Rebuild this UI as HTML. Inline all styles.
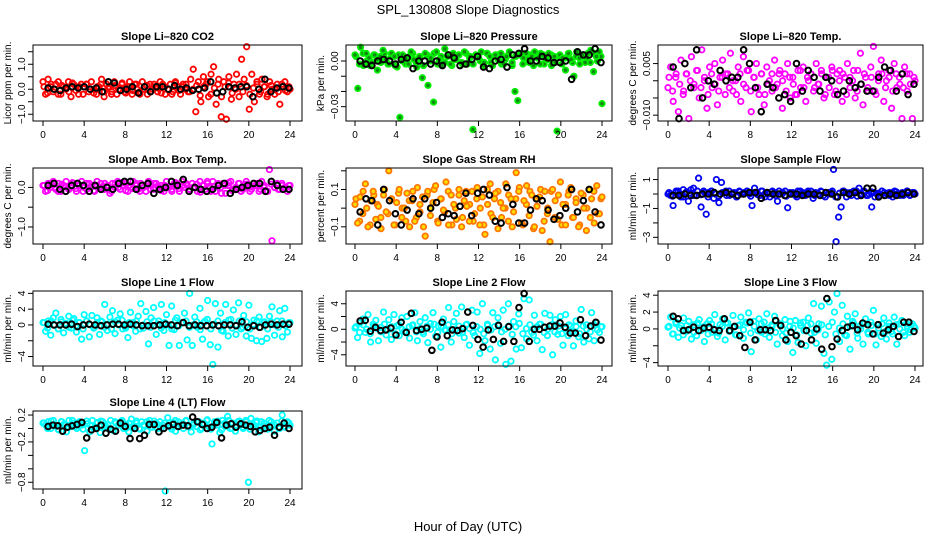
<!DOCTYPE html>
<html><head><meta charset="utf-8"><style>
html,body{margin:0;padding:0;background:#fff;}
svg{display:block;font-family:"Liberation Sans",sans-serif;}
</style></head><body>
<svg id="chart" width="936" height="540" viewBox="0 0 936 540">
<rect x="0" y="0" width="936" height="540" fill="#fff"/>
<text x="468" y="14" text-anchor="middle" font-size="13">SPL_130808  Slope Diagnostics</text>
<text x="468" y="531" text-anchor="middle" font-size="13">Hour of Day (UTC)</text>
</svg>
<script>
const xTicks=[0,4,8,12,16,20,24];
const co2Vals=[0.3,-0.2,0.4,0.1,-0.1,0.2,0.3,-0.2,0.1,0.0,0.3,-0.3,0.2,0.1,-0.2,0.2,0.1,0.2,-0.1,0.3,0.0,-0.2,0.1,0.4,-0.3,0.2,0.1,-0.1,0.3,-0.2,0.0,0.2,-0.1,0.1,0.3,-0.2,0.2,0.0,-0.1,0.3,0.1,-0.2,0.2,0.0,0.1,-0.1,0.3,0.2,-0.2,0.0,0.2,-0.1,0.3,0.1,-0.2,0.2,0.0,-0.1,0.4,0.8,-0.9,0.3,-0.5,0.5,0.2,-0.3,0.6,0.9,-0.6,0.4,-1.1,0.3,-1.2,0.5,-0.4,0.2,0.6,-0.3,1.2,0.4,1.7,-0.8,0.6,-0.5,0.3,-0.2,0.4,0.1,-0.3,0.3,0.0,-0.2,0.2,-0.6,0.1,0.3,-0.1,0.0];
const co2Core=[0.1,-0.15,0.2,0.0,-0.2,0.15,0.05,-0.1,0.25,-0.05,0.1,-0.2,0.2,0.0,-0.15,0.1,0.2,-0.1,0.05,-0.2,0.15,0.0,0.25,-0.15,0.1,-0.05,0.2,-0.2,0.0,0.15,-0.1,0.2,0.05,-0.15,0.1,0.0,-0.2,0.25,-0.05,0.1,0.2,-0.1,0.0,0.15,-0.25,0.1,0.3,-0.2,0.05,0.2,-0.3,0.1,0.25,-0.15,0.0,0.2,-0.1,0.15,-0.2,0.05,0.2,-0.1,0.1,-0.2,0.15,0.0,-0.1,0.2,-0.05,0.1];
const co2Black=[0.05,0.0,-0.05,0.05,0.1,0.05,0.1,0.0,0.05,-0.1,0.3,0.25,-0.05,0.0,0.1,-0.15,0.1,-0.1,0.1,0.1,0.0,0.15,0.0,0.05,-0.05,0.0,0.05,0.3,-0.15,-0.1,0.1,0.05,0.1,0.1,-0.3,0.0,0.4,-0.1,0.05,0.1,0.05];
const presVals=[0.004,-0.018,0.009,-0.003,0.005,0.002,-0.001,0.004,-0.006,0.003,0.007,0.001,-0.002,0.005,0.003,-0.004,-0.037,0.004,0.002,-0.002,0.006,0.001,-0.004,0.003,-0.011,0.005,-0.016,0.002,-0.027,0.006,0.001,-0.003,0.008,0.003,-0.002,0.005,0.001,0.004,-0.001,0.006,-0.002,0.003,-0.045,0.004,0.002,0.006,-0.001,0.005,0.003,-0.003,0.004,0.001,0.005,-0.002,0.003,0.006,-0.001,-0.020,-0.026,0.004,0.002,0.005,-0.001,0.003,0.006,0.002,-0.002,0.004,0.001,0.005,-0.003,0.003,-0.046,0.004,0.002,-0.006,0.005,0.001,-0.010,0.006,0.002,0.004,-0.001,0.005,0.007,-0.007,0.003,0.006,-0.028];
const presCore=[0.003,-0.002,0.005,0.000,-0.003,0.004,0.001,-0.001,0.005,-0.002,0.003,-0.003,0.004,0.000,-0.002,0.003,0.005,-0.001,0.002,-0.003,0.004,0.000,0.005,-0.002,0.003,-0.001,0.004,-0.003,0.001,0.004,-0.002,0.005,0.002,-0.002,0.003,0.000,-0.003,0.005,-0.001,0.003,0.004,-0.002,0.001,0.004,-0.003,0.003,0.005,-0.002,0.002,0.004,-0.003,0.003,0.005,-0.002,0.001,0.004,-0.001,0.003,-0.002,0.002,0.005,-0.001,0.003,-0.002,0.004,0.001,-0.001,0.005,0.000,0.003];
const presBlack=[0.000,-0.002,-0.003,0.000,0.001,0.000,-0.002,0.001,0.002,-0.005,0.000,0.000,-0.002,0.000,-0.003,0.004,0.002,-0.003,-0.002,0.001,0.003,-0.004,-0.005,0.000,0.001,-0.004,0.004,0.005,0.008,0.000,0.000,0.003,0.002,-0.001,-0.001,0.000,-0.012,0.006,0.004,0.004,0.008,-0.001];
const tempVals=[-0.002,0.004,-0.006,0.001,-0.009,0.006,-0.003,0.002,-0.011,0.007,-0.001,0.003,-0.005,0.009,0.000,-0.008,0.004,-0.002,0.005,-0.007,0.001,0.006,-0.004,0.002,0.008,-0.003,0.000,0.004,-0.006,0.007,-0.002,0.003,-0.009,0.001,0.005,-0.004,0.002,-0.007,0.004,0.000,-0.003,0.006,-0.001,0.003,-0.008,0.002,0.005,-0.005,0.001,-0.004,0.003,-0.002,0.004,-0.006,0.000,0.002,-0.003,0.005,-0.001,0.003,-0.005,0.001,-0.002,0.004,-0.004,0.002,0.003,-0.006,0.001,0.005,-0.002,0.000,-0.005,0.003,0.008,-0.007,0.001,-0.003,0.004,0.010,-0.004,0.002,0.006,-0.006,0.000,0.003,-0.008,0.005,-0.002,0.001,-0.011,0.004,-0.003,0.002,-0.011,0.000];
const tempCore=[0.001,-0.003,0.002,-0.001,-0.004,0.002,0.000,-0.002,0.003,-0.002,0.001,-0.004,0.002,-0.001,-0.003,0.001,0.002,-0.002,0.000,-0.004,0.002,-0.001,0.003,-0.003,0.001,-0.002,0.002,-0.004,-0.001,0.002,-0.002,0.002,0.000,-0.003,0.001,-0.001,-0.004,0.003,-0.002,0.001,0.002,-0.002,-0.001,0.002,-0.004,0.001,0.003,-0.003,0.000,0.002,-0.004,0.001,0.003,-0.003,-0.001,0.002,-0.002,0.001,-0.003,0.000,0.002,-0.002,0.001,-0.003,0.002,-0.001,-0.002,0.002,-0.001,0.001];
const tempBlack=[0.004,-0.011,0.005,-0.002,0.009,-0.005,0.000,-0.001,0.003,0.000,0.001,0.001,0.009,0.005,-0.002,-0.009,-0.001,-0.002,-0.005,-0.004,-0.006,0.005,-0.003,0.003,0.001,-0.003,0.001,0.000,-0.004,-0.003,0.000,-0.002,-0.001,-0.003,-0.003,0.001,0.004,0.003,-0.003,0.002,-0.004,-0.001];
const boxVals=[0.05,-0.1,0.1,0.0,0.15,-0.05,0.1,-0.1,0.05,0.15,-0.05,0.0,0.1,-0.1,0.05,0.15,0.0,-0.05,0.1,0.05,-0.1,0.15,0.0,-0.05,0.1,0.05,-0.15,0.1,0.0,0.15,-0.05,0.05,0.1,-0.1,0.0,0.15,0.05,-0.05,0.1,0.0,-0.1,0.15,0.05,-0.05,0.1,0.0,0.05,-0.1,0.15,0.0,-0.05,0.1,0.05,-0.1,0.15,0.0,0.05,-0.05,0.1,0.0,-0.1,0.15,0.05,-0.05,0.1,0.0,0.15,-0.1,0.05,0.0,0.1,-0.15,0.05,0.15,-0.05,0.0,0.1,-0.1,0.05,0.15,0.0,-0.05,0.1,0.05,-0.1,0.15,0.0,-0.1,0.45,-1.35,0.0,0.1,-0.05,0.05,0.0,-0.1,0.05];
const boxCore=[0.05,-0.08,0.1,0.0,-0.1,0.08,0.03,-0.05,0.12,-0.03,0.05,-0.1,0.1,0.0,-0.08,0.05,0.1,-0.05,0.03,-0.1,0.08,0.0,0.12,-0.08,0.05,-0.03,0.1,-0.1,0.0,0.08,-0.05,0.1,0.03,-0.08,0.05,0.0,-0.1,0.12,-0.03,0.05,0.1,-0.05,0.0,0.08,-0.12,0.05,0.15,-0.1,0.03,0.1,-0.15,0.05,0.12,-0.08,0.0,0.1,-0.05,0.08,-0.1,0.03,0.1,-0.05,0.05,-0.1,0.08,0.0,-0.05,0.1,-0.03,0.05];
const boxBlack=[0.05,0.1,-0.05,-0.1,0.05,0.1,0.05,-0.1,0.05,-0.05,0.0,-0.05,0.1,0.15,0.15,-0.05,0.05,0.1,-0.15,-0.05,0.0,0.15,0.05,0.2,-0.1,0.0,-0.05,-0.1,-0.05,0.05,0.1,-0.15,-0.05,0.0,0.05,0.1,0.1,-0.1,0.15,0.05,-0.05,-0.05];
const rhVals=[0.02,-0.08,0.06,-0.03,0.13,-0.1,0.04,0.09,-0.06,0.01,-0.11,0.07,-0.02,0.2,0.05,-0.09,0.03,0.1,-0.05,0.0,0.08,-0.1,0.04,-0.07,0.11,-0.02,0.06,-0.15,0.09,-0.04,0.03,0.12,-0.08,0.05,-0.01,0.14,-0.09,0.07,0.02,-0.06,0.1,-0.1,0.04,0.01,-0.07,0.09,-0.03,0.11,-0.09,0.06,-0.14,0.02,0.13,-0.05,0.08,-0.11,0.03,0.0,0.13,-0.07,0.05,-0.02,0.19,0.09,-0.08,0.04,0.12,-0.04,0.07,-0.1,0.01,0.06,-0.12,0.09,-0.03,-0.18,0.1,0.04,-0.06,0.14,0.02,-0.09,0.07,0.11,-0.05,0.03,-0.1,0.08,0.0,-0.12,0.1,0.05,-0.08,0.12,-0.03,0.06];
const rhCore=[0.05,-0.07,0.09,0.0,-0.09,0.07,0.02,-0.05,0.1,-0.03,0.05,-0.09,0.08,0.0,-0.07,0.04,0.09,-0.05,0.02,-0.1,0.07,0.0,0.1,-0.07,0.05,-0.02,0.09,-0.09,0.0,0.07,-0.05,0.09,0.02,-0.07,0.05,0.0,-0.09,0.1,-0.03,0.05,0.09,-0.05,0.0,0.07,-0.1,0.05,0.11,-0.09,0.02,0.09,-0.11,0.05,0.1,-0.07,0.0,0.09,-0.05,0.07,-0.09,0.02,0.09,-0.05,0.05,-0.09,0.07,0.0,-0.05,0.09,-0.03,0.05];
const rhBlack=[-0.02,0.05,0.04,-0.09,0.1,0.04,-0.03,-0.09,-0.01,0.05,-0.03,0.05,0.0,0.03,-0.05,-0.03,-0.04,0.01,0.08,-0.04,0.08,0.1,0.07,-0.07,-0.08,0.11,0.02,-0.08,-0.08,-0.01,0.05,0.04,-0.01,-0.06,-0.04,0.0,0.1,-0.02,0.04,0.1,-0.02,-0.09];
const flowVals=[0.0,-0.1,-0.8,0.1,0.2,-0.2,0.3,0.1,-0.5,0.3,0.4,-0.1,1.1,-0.9,0.2,-1.4,0.1,0.2,-0.3,1.0,-0.6,0.8,0.1,-0.1,0.2,0.0,0.1,-0.2,0.2,0.0,0.1,0.2,0.0,-0.8,0.4,0.1,-0.1,0.2,0.0,0.1,-0.2,0.2,0.1,-0.5,0.0,0.1,0.2,-0.95,0.0,0.1,-0.1,0.2,0.0,0.1,-0.1,0.2,0.0,-0.3,0.1,0.0,0.2,-0.1,0.1,0.0,0.1,1.7,-3.3,-1.6,-0.9,0.2,0.1,0.0,-0.1,0.1,0.2,0.4,0.0,0.1,-0.1,0.0,-0.9,0.1,0.0,-0.1,0.2,0.1,0.0,-0.1,0.1,0.2,0.0,-0.1,0.1,0.0,0.2,-0.1,0.1,0.0];
const flowCore=[0.1,-0.15,0.2,0.0,-0.2,0.15,0.05,-0.1,0.2,-0.05,0.1,-0.2,0.2,0.0,-0.15,0.1,0.2,-0.1,0.05,-0.2,0.15,0.0,0.2,-0.15,0.1,-0.05,0.2,-0.2,0.0,0.15,-0.1,0.2,0.05,-0.15,0.1,0.0,-0.2,0.2,-0.05,0.1,0.2,-0.1,0.0,0.15,-0.2,0.1,0.2,-0.2,0.05,0.2,-0.2,0.1,0.2,-0.15,0.0,0.2,-0.1,0.15,-0.2,0.05,0.2,-0.1,0.1,-0.2,0.15,0.0,-0.1,0.2,-0.05,0.1];
const flowBlack=[-0.1,-0.1,0.0,-0.1,-0.1,0.0,0.0,0.1,0.0,0.1,0.0,-0.1,0.0,0.1,0.1,-0.3,0.1,0.0,0.0,-0.1,0.0,0.0,-0.1,0.0,0.0,-0.1,0.1,0.0,-0.2,0.1,0.0,0.1,-0.1,0.4,0.4,-0.2,-0.1,0.0,-0.1,0.0,0.1,0.0];
const l1Vals=[0.3,-0.8,0.5,-1.3,0.9,1.5,-0.5,0.7,-1.0,0.2,1.1,-0.4,0.8,-0.9,0.3,-1.8,1.3,0.5,-1.5,1.2,-0.3,0.9,-1.2,0.4,2.6,-0.7,1.0,1.8,-1.1,0.6,1.4,-0.5,-0.2,-1.6,1.6,0.3,-0.8,1.1,2.7,-0.4,1.7,-2.4,0.9,2.2,-1.2,0.5,2.6,-0.7,1.3,-2.6,2.4,-0.6,0.9,-2.6,0.3,1.5,-1.9,4.0,-2.6,1.0,-0.3,2.1,-1.8,0.5,3.1,-2.5,-5.0,2.7,-2.8,1.5,-0.8,2.6,-1.4,0.7,1.9,-1.2,2.8,-0.5,1.2,-1.4,2.5,-1.7,0.6,-2.0,1.0,-2.1,0.4,-1.7,1.1,2.3,-1.3,0.5,1.8,-1.5,2.1,-0.9,0.3];
const l1Core=[0.3,-0.4,0.5,0.0,-0.5,0.4,0.1,-0.3,0.6,-0.1,0.3,-0.5,0.5,0.0,-0.4,0.3,0.5,-0.3,0.1,-0.5,0.4,0.0,0.6,-0.4,0.3,-0.1,0.5,-0.5,0.0,0.4,-0.3,0.5,0.1,-0.4,0.3,0.0,-0.5,0.6,-0.1,0.3,0.5,-0.3,0.0,0.4,-0.6,0.3,0.7,-0.5,0.1,0.5,-0.7,0.3,0.6,-0.4,0.0,0.5,-0.3,0.4,-0.5,0.1,0.5,-0.3,0.3,-0.5,0.4,0.0,-0.3,0.5,-0.1,0.3];
const l1Black=[0.1,0.0,0.0,0.0,0.1,-0.2,0.0,0.1,0.0,-0.1,0.0,0.1,0.1,0.0,0.1,0.0,-0.1,-0.1,-0.1,0.0,0.1,0.0,-0.1,0.3,-0.1,0.0,-0.1,-0.1,0.0,-0.1,0.0,0.0,-0.1,0.4,-0.3,-0.1,-0.3,0.0,0.1,0.0,0.1,0.1];
const l2Vals=[0.2,-1.3,1.0,1.6,-0.5,2.3,-2.0,0.8,1.4,-1.8,0.3,2.7,-0.9,1.5,-1.6,2.3,0.5,-1.0,1.8,-0.3,2.0,-1.4,0.6,2.6,-1.8,1.2,-0.4,1.8,-2.1,0.9,2.6,-1.1,0.5,-2.8,1.6,-0.2,3.4,-2.0,1.2,2.5,-0.6,3.5,-1.3,0.8,-2.5,3.0,-1.0,2.7,-3.8,4.0,-1.8,0.6,-3.1,2.6,-4.8,1.8,-2.2,3.0,-5.5,4.0,-5.0,1.2,-3.1,2.4,-2.9,4.8,-1.5,4.6,-0.5,2.2,-1.8,0.8,-3.2,2.5,-1.0,2.2,-4.0,1.5,-0.8,2.0,-2.5,2.3,-1.0,0.5,-2.6,1.3,-1.2,3.1,-2.0,0.7,-1.5,2.6,-1.8,1.0,-0.5,0.4];
const l2Core=[0.4,-0.5,0.7,0.0,-0.7,0.5,0.1,-0.4,0.8,-0.1,0.4,-0.7,0.7,0.0,-0.5,0.4,0.7,-0.4,0.1,-0.7,0.5,0.0,0.8,-0.5,0.4,-0.1,0.7,-0.7,0.0,0.5,-0.4,0.7,0.1,-0.5,0.4,0.0,-0.7,0.8,-0.1,0.4,0.7,-0.4,0.0,0.5,-0.8,0.4,0.9,-0.7,0.1,0.7,-0.9,0.4,0.8,-0.5,0.0,0.7,-0.4,0.5,-0.7,0.1,0.7,-0.4,0.4,-0.7,0.5,0.0,-0.4,0.7,-0.1,0.4];
const l2Black=[1.3,1.4,-0.3,0.3,-0.2,-0.1,0.2,-0.9,1.1,-0.5,2.5,-0.2,0.0,0.2,-3.3,-1.2,1.1,-1.0,-0.1,-0.2,0.1,2.7,0.6,-1.6,-2.8,-0.1,-1.6,0.6,-1.9,0.4,-1.9,3.4,5.6,-1.9,0.0,0.0,0.3,0.5,0.5,1.0,0.3,-0.6,-0.6,1.5,-1.0,0.5,1.1,-1.7];
const l3Vals=[0.2,1.4,-0.6,0.8,-1.0,0.4,1.3,-0.3,0.9,-1.2,0.5,-0.8,1.1,0.2,-1.5,0.6,1.0,-0.4,1.7,-0.9,0.5,1.2,-1.3,0.7,-0.2,1.6,-0.7,0.4,1.4,-1.1,0.8,1.9,-2.7,0.9,-1.3,1.2,-0.4,0.8,1.8,-1.0,0.3,1.5,-1.8,0.6,-0.8,1.1,-1.5,0.9,-2.8,1.0,-1.6,0.4,0.8,-2.0,1.3,-0.5,3.0,-1.7,0.6,2.7,-2.9,-4.3,3.2,-3.6,2.0,4.2,-1.5,2.8,-0.7,1.5,-2.4,0.9,1.8,-1.1,0.4,-1.8,1.2,-0.6,0.8,2.2,-1.9,0.5,-0.9,1.3,-1.2,0.7,-0.3,1.4,-1.8,0.6,1.0,-0.8,0.3,-0.4,0.6,0.1];
const l3Core=[0.3,-0.6,0.6,0.1,-0.7,0.4,0.0,-0.4,0.7,-0.2,0.3,-0.6,0.6,-0.1,-0.5,0.3,0.7,-0.3,0.2,-0.7,0.5,-0.1,0.7,-0.5,0.3,-0.2,0.6,-0.6,0.1,0.5,-0.4,0.6,0.0,-0.5,0.3,0.1,-0.7,0.7,-0.2,0.4,0.6,-0.4,-0.1,0.5,-0.7,0.3,0.8,-0.6,0.1,0.6,-0.8,0.3,0.7,-0.5,0.0,0.6,-0.4,0.4,-0.6,0.1,0.6,-0.3,0.3,-0.6,0.5,0.0,-0.4,0.6,-0.1,0.3];
const l3Black=[1.5,1.2,-0.2,-0.1,0.2,-0.2,0.1,0.2,-0.1,-0.2,1.2,-0.2,0.3,-0.8,-2.2,0.8,-1.3,-0.1,-0.1,-0.2,1.0,0.4,-1.3,-0.4,-0.8,-1.8,-0.2,-1.3,0.0,-2.4,3.6,-2.1,-1.2,-0.2,0.2,0.4,-0.1,0.7,0.5,-0.6,0.5,-0.5,-0.1,0.3,-0.9,0.8,0.8,-0.3];
const l4Vals=[0.08,0.05,0.1,0.0,0.12,0.04,-0.02,0.1,0.06,-0.05,0.12,0.03,0.08,0.0,0.1,0.05,-0.33,0.07,-0.05,0.12,0.02,0.09,-0.06,0.1,0.04,0.0,0.12,-0.03,0.08,0.05,0.1,0.0,0.06,-0.05,0.14,0.03,0.08,0.0,0.1,0.05,-0.04,0.12,0.02,0.07,0.0,0.1,0.05,-0.93,0.16,0.02,0.09,-0.04,0.1,0.05,0.0,0.12,0.04,-0.05,0.08,0.03,0.1,0.0,0.06,0.12,0.02,-0.23,0.1,0.05,-0.06,0.12,0.03,0.18,0.0,0.08,-0.04,0.1,0.05,0.0,0.12,-0.80,0.15,0.03,0.09,-0.05,0.1,0.04,0.0,0.12,0.05,-0.04,0.08,0.0,0.2,0.02,0.1,0.05];
const l4Core=[0.08,0.0,0.11,0.05,-0.01,0.1,0.06,0.02,0.12,0.03,0.08,-0.01,0.11,0.05,0.0,0.08,0.11,0.02,0.06,-0.01,0.1,0.05,0.12,0.0,0.08,0.03,0.11,-0.01,0.05,0.1,0.02,0.11,0.06,0.0,0.08,0.05,-0.01,0.12,0.03,0.08,0.11,0.02,0.05,0.1,-0.02,0.08,0.13,-0.01,0.06,0.11,-0.02,0.08,0.12,0.0,0.05,0.11,0.02,0.1,-0.01,0.06,0.11,0.02,0.08,-0.01,0.1,0.05,0.02,0.11,0.03,0.08];
const l4Black=[0.03,0.05,0.04,-0.04,0.02,0.04,0.06,0.09,-0.14,-0.02,0.0,0.05,-0.07,-0.01,-0.04,0.08,0.03,-0.15,0.0,-0.15,-0.1,0.06,0.06,-0.05,0.0,0.04,0.06,0.03,0.05,0.04,0.17,0.1,0.06,0.0,0.02,0.09,-0.14,0.05,0.07,0.02,0.07,0.05,0.03,-0.05,-0.03,0.0,0.02,-0.1,0.02,0.08,0.0];

const cols=[{L:33,R:302,x0:43,x24:290},{L:346,R:612,x0:355,x24:602},{L:658,R:923,x0:668,x24:915}];
const rows=[{T:45,B:121},{T:168,B:244},{T:291,B:366},{T:411,B:489}];
const panels=[
 {name:'co2',title:'Slope Li\u2013820 CO2',ylab:'Licor ppm per min.',c:0,r:0,ymin:-1.27,ymax:1.77,ticks:[-1,-0.5,0,0.5,1,1.5],labels:{'-1':'\u22121.0','0':'0.0','1':'1.0'},vals:co2Vals,core:co2Core,blk:co2Black,stroke:'#ff0000',fill:'none'},
 {name:'pressure',title:'Slope Li\u2013820 Pressure',ylab:'kPa per min.',c:1,r:0,ymin:-0.0394,ymax:0.0105,ticks:[-0.03,-0.02,-0.01,0],labels:{'-0.03':'\u22120.03','0':'0.00'},vals:presVals,core:presCore,blk:presBlack,stroke:'#00ee00',fill:'#118811'},
 {name:'temp',title:'Slope Li\u2013820 Temp.',ylab:'degrees C per min.',c:2,r:0,ymin:-0.0117,ymax:0.0104,ticks:[-0.01,-0.005,0,0.005],labels:{'-0.01':'\u22120.010','0.005':'0.005'},vals:tempVals,core:tempCore,blk:tempBlack,stroke:'#ff00ff',fill:'none'},
 {name:'amb-box-temp',title:'Slope Amb. Box Temp.',ylab:'degrees C per min.',c:0,r:1,ymin:-1.43,ymax:0.49,ticks:[-1,-0.5,0],labels:{'-1':'\u22121.0','0':'0.0'},vals:boxVals,core:boxCore,blk:boxBlack,stroke:'#ff00ff',fill:'none'},
 {name:'gas-rh',title:'Slope Gas Stream RH',ylab:'percent per min.',c:1,r:1,ymin:-0.192,ymax:0.215,ticks:[-0.1,0,0.1,0.2],labels:{'-0.1':'\u22120.1','0.1':'0.1'},vals:rhVals,core:rhCore,blk:rhBlack,stroke:'#ff7700',fill:'#ffdd00'},
 {name:'sample-flow',title:'Slope Sample Flow',ylab:'ml/min per min.',c:2,r:1,ymin:-3.46,ymax:1.8,ticks:[-3,-2,-1,0,1],labels:{'-3':'\u22123','-1':'\u22121','1':'1'},vals:flowVals,core:flowCore,blk:flowBlack,stroke:'#0000ee',fill:'none'},
 {name:'line1-flow',title:'Slope Line 1 Flow',ylab:'ml/min per min.',c:0,r:2,ymin:-5.2,ymax:4.3,ticks:[-4,-2,0,2,4],labels:{'-4':'\u22124','0':'0','2':'2','4':'4'},vals:l1Vals,core:l1Core,blk:l1Black,stroke:'#00ffff',fill:'none'},
 {name:'line2-flow',title:'Slope Line 2 Flow',ylab:'ml/min per min.',c:1,r:2,ymin:-5.76,ymax:6.0,ticks:[-4,-2,0,2,4],labels:{'-4':'\u22124','0':'0','4':'4'},vals:l2Vals,core:l2Core,blk:l2Black,stroke:'#00ffff',fill:'none'},
 {name:'line3-flow',title:'Slope Line 3 Flow',ylab:'ml/min per min.',c:2,r:2,ymin:-4.4,ymax:4.5,ticks:[-4,-2,0,2,4],labels:{'-4':'\u22124','0':'0','2':'2','4':'4'},vals:l3Vals,core:l3Core,blk:l3Black,stroke:'#00ffff',fill:'none'},
 {name:'line4-flow',title:'Slope Line 4 (LT) Flow',ylab:'ml/min per min.',c:0,r:3,ymin:-0.9,ymax:0.26,ticks:[-0.8,-0.6,-0.4,-0.2,0,0.2],labels:{'-0.8':'\u22120.8','-0.2':'\u22120.2','0.2':'0.2'},vals:l4Vals,core:l4Core,blk:l4Black,stroke:'#00ffff',fill:'none'}
];
const NS='http://www.w3.org/2000/svg';
const svg=document.getElementById('chart');
function mk(tag,attrs,parent){const e=document.createElementNS(NS,tag);for(const k in attrs)e.setAttribute(k,attrs[k]);parent.appendChild(e);return e;}
panels.forEach(p=>{
 const col=cols[p.c],row=rows[p.r];
 const xs=h=>col.x0+(col.x24-col.x0)*h/24;
 const ys=v=>row.B-(v-p.ymin)/(p.ymax-p.ymin)*(row.B-row.T);
 const g=mk('g',{},svg);
 
 
 const t=mk('text',{x:(col.L+col.R)/2,y:row.T-5,'text-anchor':'middle','font-size':'11','font-weight':'bold'},g);
 t.textContent=p.title;
 
 
 const pts=mk('g',{},g);
 
 
 const nc=p.core.length;
 p.core.forEach((v,i)=>{
  const h=0.1+i*23.8/(nc-1);
  const c=mk('circle',{cx:xs(h),cy:ys(v),r:2.7,fill:p.fill,stroke:p.stroke,'stroke-width':1.8},pts);
  
  
 });
 const n=p.vals.length;
 p.vals.forEach((v,i)=>{
  const h=i*24/(n-1);
  const c=mk('circle',{cx:xs(h),cy:ys(v),r:2.7,fill:p.fill,stroke:p.stroke,'stroke-width':1.8},pts);
  
  
 });
 const bk=mk('g',{},g);
 
 
 const m=p.blk.length;
 p.blk.forEach((v,i)=>{
  const h=0.5+i*23.4/(m-1);
  const c=mk('circle',{cx:xs(h),cy:ys(v),r:2.8,fill:'none',stroke:'#000','stroke-width':2},bk);
  
  
 });
 const box=mk('rect',{x:col.L,y:row.T,width:col.R-col.L,height:row.B-row.T,fill:'none',stroke:'#000','stroke-width':1},g);
 
 
 const ax=mk('g',{stroke:'#000','stroke-width':1},g);
 
 
 xTicks.forEach(h=>{
  mk('line',{x1:xs(h),x2:xs(h),y1:row.B,y2:row.B+5},ax);
  const tl=mk('text',{x:xs(h),y:row.B+17,'text-anchor':'middle','font-size':'10',stroke:'none',fill:'#000'},g);
  tl.textContent=String(h);
  
  
 });
 const ay=mk('g',{stroke:'#000','stroke-width':1},g);
 
 
 p.ticks.forEach(v=>{
  const y=ys(v);
  mk('line',{x1:col.L-5,x2:col.L,y1:y,y2:y},ay);
  const key=String(v);
  if(p.labels[key]!==undefined){
   const tx=col.L-8;
   const tl=mk('text',{x:tx,y:y,transform:'rotate(-90 '+tx+' '+y+')','text-anchor':'middle','font-size':'10'},g);
   tl.textContent=p.labels[key];
   
   
  }
 });
 const yx=col.L-22,yy=(row.T+row.B)/2;
 const yl=mk('text',{x:yx,y:yy,transform:'rotate(-90 '+yx+' '+yy+')','text-anchor':'middle','font-size':'10'},g);
 yl.textContent=p.ylab;
 
 
});
</script>
</body></html>
